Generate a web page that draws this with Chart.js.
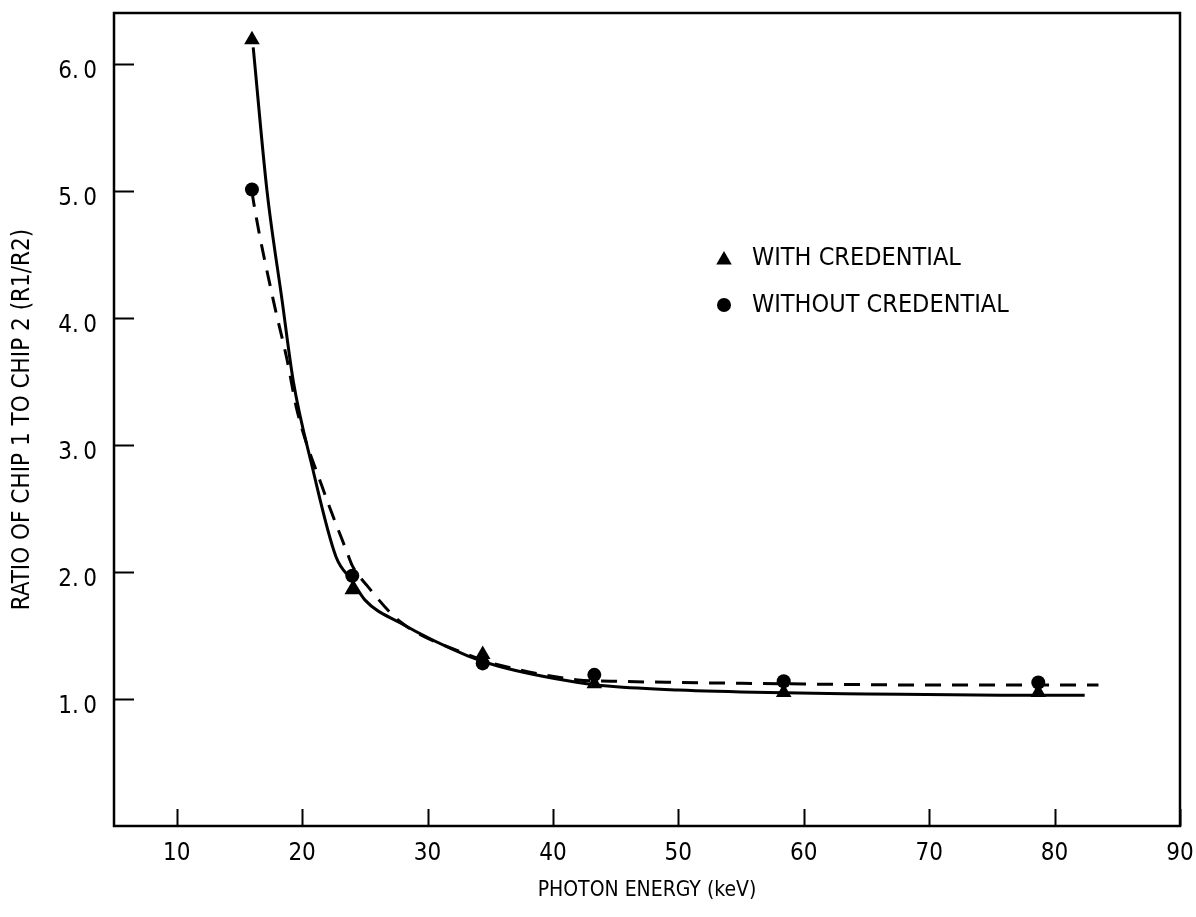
<!DOCTYPE html>
<html>
<head>
<meta charset="utf-8">
<script src="https://cdn.jsdelivr.net/npm/chart.js@4/dist/chart.umd.min.js"></script>
<style>
  html, body { margin: 0; padding: 0; background: #fff; }
  #wrap { width: 1196px; height: 917px; }
</style>
</head>
<body>
<div id="wrap"><canvas id="ratioChart" width="1196" height="917"></canvas></div>
<script>
// measured points (photon energy in keV vs ratio R1/R2)
const energies = [16.0, 24.0, 34.4, 43.3, 58.4, 78.7];
const withCredential = [6.19, 1.86, 1.35, 1.12, 1.05, 1.05];
const withoutCredential = [5.01, 1.97, 1.28, 1.19, 1.14, 1.13];

// hand-drawn fitted curves
const solidCurveX = [16.1, 17.2, 18.4, 19.3, 20.8, 22.7, 24.0, 25.0, 27.8, 33.2, 35.6, 42.0, 44.6, 50.0, 57.2, 65.0, 75.8, 82.4];
const solidCurveY = [6.13, 5.00, 4.14, 3.50, 2.83, 2.12, 1.93, 1.78, 1.60, 1.34, 1.26, 1.13, 1.10, 1.07, 1.05, 1.04, 1.03, 1.03];
const dashedCurveX = [16.0, 16.1, 17.7, 18.8, 19.6, 21.6, 23.6, 24.0, 25.2, 27.8, 33.2, 35.6, 42.0, 44.6, 50.0, 58.0, 70.0, 83.5];
const dashedCurveY = [5.00, 4.93, 4.14, 3.67, 3.27, 2.67, 2.15, 2.05, 1.89, 1.61, 1.35, 1.27, 1.15, 1.14, 1.13, 1.12, 1.11, 1.11];

const xTicks = [10, 20, 30, 40, 50, 60, 70, 80, 90];
const yTicks = [1, 2, 3, 4, 5, 6];

const legendItems = ['WITH CREDENTIAL', 'WITHOUT CREDENTIAL'];

const FONT = "'Liberation Sans Narrow', 'DejaVu Sans Condensed', sans-serif";

const toPoints = (xs, ys) => xs.map((x, i) => ({ x: x, y: ys[i] }));

function drawTriangle(ctx, x, y, r) {
    ctx.beginPath();
    ctx.moveTo(x, y - r);
    ctx.lineTo(x + r * 0.866, y + r * 0.5);
    ctx.lineTo(x - r * 0.866, y + r * 0.5);
    ctx.closePath();
    ctx.fill();
}

function drawDot(ctx, x, y, r) {
    ctx.beginPath();
    ctx.arc(x, y, r, 0, Math.PI * 2);
    ctx.fill();
}

// white page, box frame, inward tick marks and the legend
const paperPlugin = {
    id: 'paper',
    beforeDraw(chart) {
        const ctx = chart.ctx;
        ctx.save();
        ctx.fillStyle = '#fff';
        ctx.fillRect(0, 0, chart.width, chart.height);
        ctx.restore();
    },
    afterDatasetsDraw(chart) {
        const { ctx, chartArea: a, scales } = chart;
        ctx.save();
        ctx.strokeStyle = '#000';
        ctx.lineWidth = 2.5;
        ctx.strokeRect(a.left, a.top, a.right - a.left, a.bottom - a.top);

        ctx.lineWidth = 2;
        ctx.beginPath();
        xTicks.forEach(v => {
            const px = Math.round(scales.x.getPixelForValue(v)) + 0.5;
            ctx.moveTo(px, a.bottom);
            ctx.lineTo(px, a.bottom - 17);
        });
        yTicks.forEach(v => {
            const py = Math.round(scales.y.getPixelForValue(v)) + 0.5;
            ctx.moveTo(a.left, py);
            ctx.lineTo(a.left + 20, py);
        });
        ctx.stroke();

        // legend
        ctx.fillStyle = '#000';
        ctx.font = '25px ' + FONT;
        ctx.textBaseline = 'middle';
        ctx.textAlign = 'left';
        drawTriangle(ctx, 724, 260, 9);
        ctx.fillText(legendItems[0], 752, 258);
        drawDot(ctx, 724, 305, 7);
        ctx.fillText(legendItems[1], 752, 305);
        ctx.restore();
    }
};

const tickFont = { family: FONT, size: 24 };

new Chart(document.getElementById('ratioChart'), {
    type: 'scatter',
    data: {
        datasets: [
            {
                label: 'WITH CREDENTIAL',
                data: toPoints(energies, withCredential),
                pointStyle: 'triangle',
                pointRadius: 9,
                pointBackgroundColor: '#000',
                pointBorderColor: '#000',
                pointBorderWidth: 0,
                showLine: false
            },
            {
                label: 'WITHOUT CREDENTIAL',
                data: toPoints(energies, withoutCredential),
                pointStyle: 'circle',
                pointRadius: 7,
                pointBackgroundColor: '#000',
                pointBorderColor: '#000',
                pointBorderWidth: 0,
                showLine: false
            },
            {
                label: 'with credential curve',
                data: toPoints(solidCurveX, solidCurveY),
                showLine: true,
                borderColor: '#000',
                borderWidth: 3,
                pointRadius: 0,
                cubicInterpolationMode: 'monotone'
            },
            {
                label: 'without credential curve',
                data: toPoints(dashedCurveX, dashedCurveY),
                showLine: true,
                borderColor: '#000',
                borderWidth: 3,
                borderDash: [16, 11],
                pointRadius: 0,
                cubicInterpolationMode: 'monotone'
            }
        ]
    },
    options: {
        responsive: false,
        animation: false,
        events: [],
        layout: { padding: { top: 13, right: 16, left: 0, bottom: 0 } },
        plugins: {
            legend: { display: false },
            tooltip: { enabled: false }
        },
        scales: {
            x: {
                type: 'linear',
                min: 5,
                max: 90,
                afterBuildTicks: s => { s.ticks = xTicks.map(v => ({ value: v })); },
                afterFit: s => { s.height = 91; s.paddingLeft = 0; s.paddingRight = 0; },
                grid: { display: false, drawTicks: false },
                border: { display: false },
                ticks: { color: '#000', font: tickFont, padding: 13, maxRotation: 0, autoSkip: false },
                title: {
                    display: true,
                    text: 'PHOTON ENERGY (keV)',
                    color: '#000',
                    font: { family: FONT, size: 21 },
                    padding: { top: 0, bottom: 14 }
                }
            },
            y: {
                type: 'linear',
                min: 0,
                max: 6.4,
                afterBuildTicks: s => { s.ticks = yTicks.map(v => ({ value: v })); },
                afterFit: s => { s.width = 114; s.paddingTop = 0; s.paddingBottom = 0; },
                grid: { display: false, drawTicks: false },
                border: { display: false },
                ticks: {
                    color: '#000',
                    font: tickFont,
                    padding: 17,
                    labelOffset: 8,
                    callback: v => v.toFixed(1).replace('.', '.\u2009')
                },
                title: {
                    display: true,
                    text: 'RATIO OF CHIP 1 TO CHIP 2 (R1/R2)',
                    color: '#000',
                    font: { family: FONT, size: 24 },
                    padding: { top: 8, bottom: 0 }
                }
            }
        }
    },
    plugins: [paperPlugin]
});
</script>
</body>
</html>
